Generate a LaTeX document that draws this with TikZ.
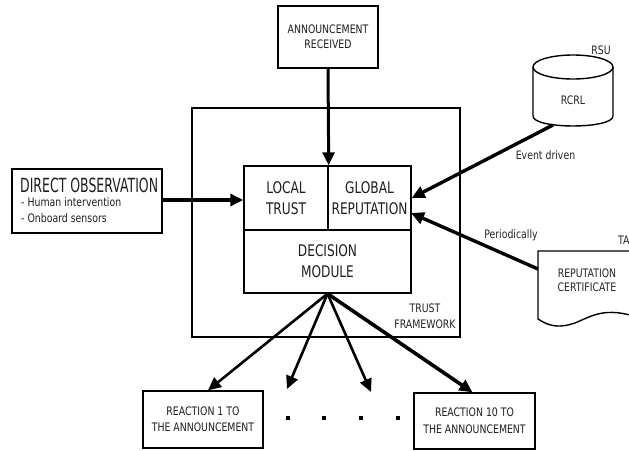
\documentclass[tikz,border=0pt]{standalone}
\usepackage{fontspec}
\setmainfont{DejaVu Sans}[FakeStretch=0.8]
\newfontfamily\innerf{DejaVu Sans}[FakeStretch=0.76]
\newfontfamily\dof{DejaVu Sans}[FakeStretch=0.64]
\usetikzlibrary{arrows.meta}
\tikzset{
  box/.style={draw, line width=1.4pt, inner sep=0pt, align=center, text=black!88},
  small/.style={font=\fontsize{11.7}{15}\selectfont},
  big/.style={font=\innerf\fontsize{16}{21}\selectfont},
  lab/.style={inner sep=0pt, text=black!85, font=\fontsize{11.7}{16}\selectfont},
  arr/.style={line width=3pt, -{Triangle[length=13pt,width=12pt]}},
  dotm/.style={fill=black, inner sep=0pt, minimum size=3.2pt}
}
\begin{document}
\begin{tikzpicture}[x=1pt, y=-1pt]
\clip (0,0) rectangle (629,450);
\fill[white] (0,0) rectangle (629,450);

% trust framework
\node[draw, line width=1.2pt, minimum width=268pt, minimum height=229pt, inner sep=0pt] (tf) at (326,222.5) {};
\node[lab, align=center] (tflab) at (425,316) {TRUST\\FRAMEWORK};

% inner boxes
\node[box, big, minimum width=84pt, minimum height=64pt] (local) at (286,198) {LOCAL\\TRUST};
\node[box, big, minimum width=83pt, minimum height=64pt] (global) at (369.5,198) {GLOBAL\\REPUTATION};
\node[box, big, minimum width=167pt, minimum height=63pt] (dec) at (327.5,261.5) {DECISION\\MODULE};

% announcement
\node[box, small, minimum width=100pt, minimum height=62pt] (ann) at (328,37) {ANNOUNCEMENT\\RECEIVED};

% direct observation
\node[box, minimum width=150pt, minimum height=64pt] (dobs) at (87,201) {};
\node[anchor=west, inner sep=0pt, text=black!88, font=\dof\fontsize{19.5}{20}\selectfont] (dotitle) at (20,185) {DIRECT OBSERVATION};
\node[anchor=west, inner sep=0pt, text=black!88, font=\fontsize{11.7}{15}\selectfont] (do1) at (21,202) {- Human intervention};
\node[anchor=west, inner sep=0pt, text=black!88, font=\fontsize{11.7}{15}\selectfont] (do2) at (21,218) {- Onboard sensors};

% RSU cylinder
\draw[line width=1.4pt, fill=white] (573,67) ellipse [x radius=40, y radius=12];
\draw[line width=1.4pt] (533,67) -- (533,116) .. controls (533,129.3) and (613,129.3) .. (613,116) -- (613,67);
\node[lab] (rcrl) at (573,100) {RCRL};
\node[lab] (rsulab) at (601,50) {RSU};
\coordinate (rsubot) at (553,125);

% TA document
\draw[line width=1.4pt] (640,251) -- (538,251) -- (538,319)
  .. controls (550,327) and (560,328) .. (575,323)
  .. controls (592,316) and (605,306) .. (640,318);
\node[lab, align=center, font=\fontsize{11.7}{14}\selectfont] (repcert) at (587,280) {REPUTATION\\CERTIFICATE};
\node[lab, anchor=west] (talab) at (618,240) {TA};
\coordinate (taleft) at (538,269);

% reactions
\node[box, small, minimum width=120pt, minimum height=57pt, font=\fontsize{11.7}{16}\selectfont] (r1) at (203,419.5) {REACTION 1 TO\\THE ANNOUNCEMENT};
\node[box, small, minimum width=121pt, minimum height=56pt, font=\fontsize{11.7}{17}\selectfont] (r10) at (474.5,421) {REACTION 10 TO\\THE ANNOUNCEMENT};
\coordinate (t2) at (287,389);
\coordinate (t3) at (371,392);

\node[dotm] (d1) at (288,418) {};
\node[dotm] (d2) at (324,418) {};
\node[dotm] (d3) at (361,418) {};
\node[dotm] (d4) at (398,418) {};

% labels
\node[lab] (evlab) at (545.5,155) {Event driven};
\node[lab] (perlab) at (511,235) {Periodically};

% arrows
\draw[arr] (ann.south) -- (local.north east);
\draw[arr, line width=3.8pt] (dobs.east |- 0,200) -- (local.west |- 0,200);
\draw[arr, line width=3.4pt] (rsubot) -- (global.east);
\draw[arr, line width=3.4pt] (taleft) -- (411,213);
\draw[arr, line width=2.6pt] (dec.south) -- ([xshift=5pt]r1.north);
\draw[arr, line width=2.6pt] (dec.south) -- (t2);
\draw[arr, line width=2.6pt] (dec.south) -- (t3);
\draw[arr, line width=3.6pt] (dec.south) -- ([xshift=-2pt]r10.north);
\end{tikzpicture}
\end{document}
